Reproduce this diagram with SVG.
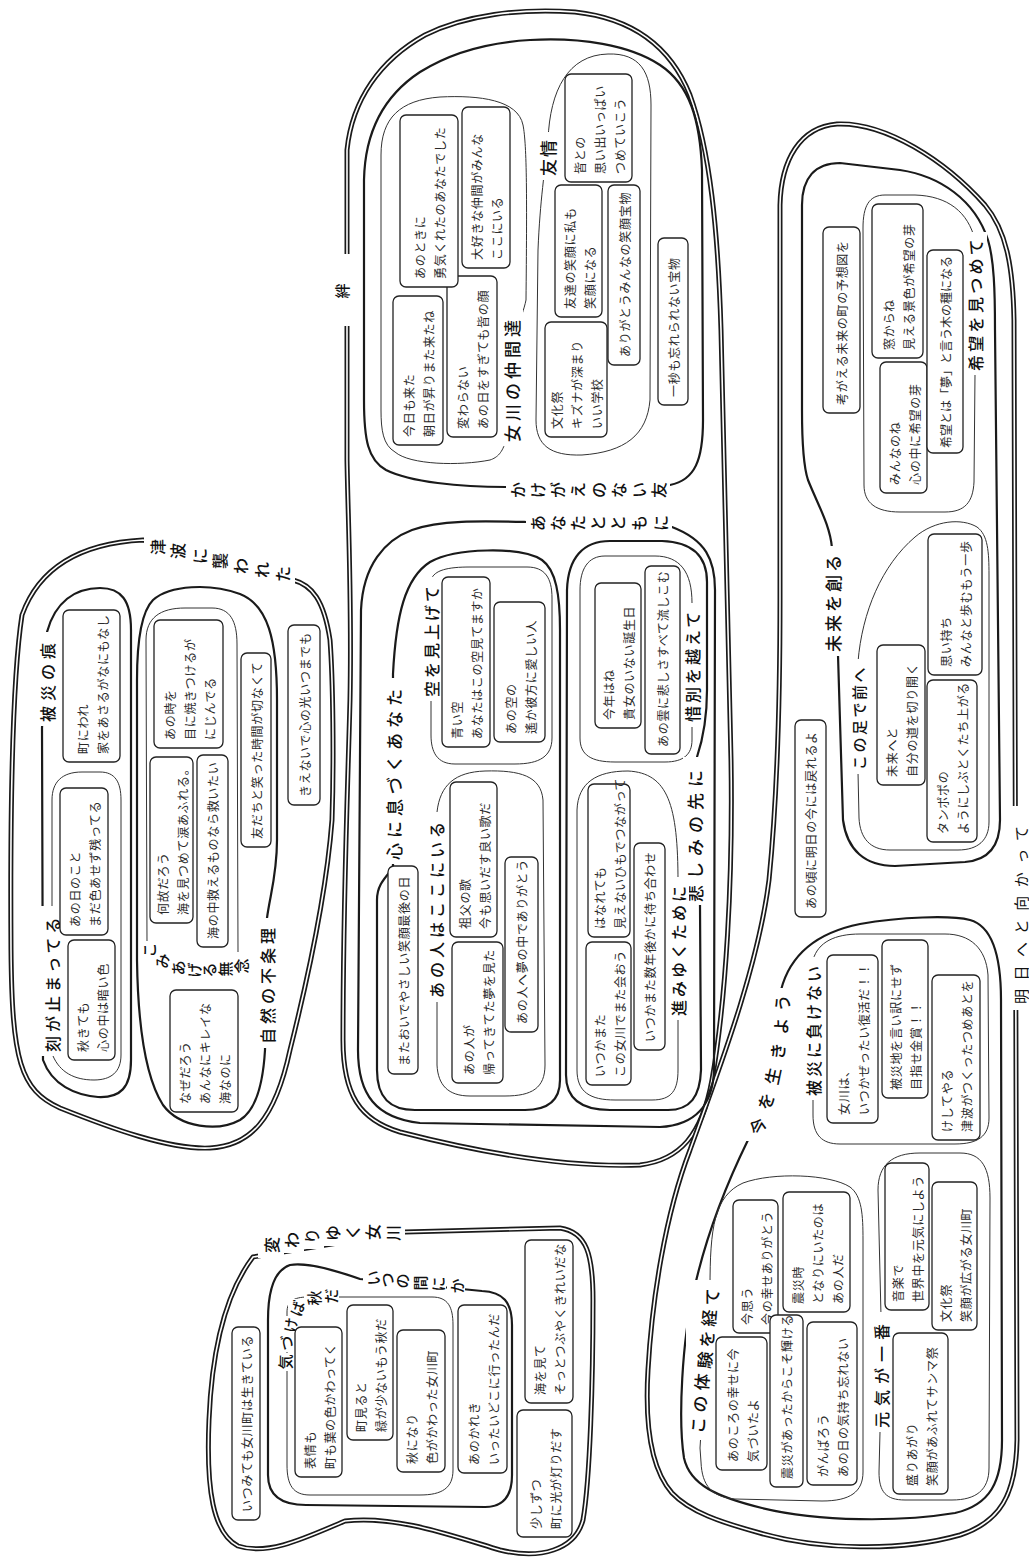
<svg xmlns="http://www.w3.org/2000/svg" width="1029" height="1563" viewBox="0 0 1029 1563">
<style>
.dbl{fill:none;stroke:#1a1a1a;stroke-width:5;stroke-linejoin:round}
.dbw{fill:none;stroke:#fff;stroke-width:1.6}
.thk{fill:none;stroke:#1a1a1a;stroke-width:2.2}
.thn{fill:none;stroke:#333;stroke-width:1}
.box{fill:#fff;stroke:#222;stroke-width:1.3}
.bg{fill:#fff}
.t{font-family:"Noto Sans CJK JP","Noto Sans CJK SC",sans-serif;font-size:12px;letter-spacing:0.7px;fill:#2a2a2a;dominant-baseline:central}
.h{font-family:"Noto Sans CJK JP","Noto Sans CJK SC",sans-serif;font-size:16px;font-weight:500;fill:#111;dominant-baseline:central}
.c{text-anchor:middle}
</style>
<rect width="1029" height="1563" fill="#fff"/>
<defs>
<path id="pA" d="M347,255 L347,150 C352,100 380,60 425,35 C465,15 520,8 575,12 C630,18 670,45 690,95 C710,150 718,230 721,330 C724,450 728,600 731,760 C733,880 726,1000 712,1080 C702,1135 680,1160 640,1165 C560,1168 470,1150 400,1132 C360,1120 343,1095 343,1040 C343,900 348,780 350,700 C352,600 348,520 347,460 Z"/>
<path id="pC" d="M143,540 C85,543 40,565 22,615 C12,680 10,800 11,950 C12,1060 20,1090 60,1108 C110,1128 170,1150 210,1148 C250,1146 275,1120 290,1050 C305,990 326,900 332,820 C334,760 333,680 330,640 C324,600 312,585 293,580 Z"/>
<path id="pD" d="M253,1257 C228,1290 212,1345 209,1420 C206,1490 213,1533 238,1546 C268,1556 305,1538 345,1521 C395,1515 450,1535 500,1550 C540,1560 575,1550 583,1520 C590,1480 593,1380 593,1300 C593,1255 587,1232 560,1228 L405,1232 Z"/>
<path id="pB" d="M780,600 L780,205 C781,160 800,127 837,124 C885,122 945,160 985,205 C1006,230 1013,265 1014,320 L1017,1440 C1016,1495 1000,1522 960,1535 C900,1552 820,1550 760,1533 C720,1522 690,1512 672,1493 C650,1468 645,1420 648,1370 C652,1300 665,1215 690,1150 C715,1080 758,970 769,880 C777,800 780,700 780,600 Z"/>
</defs>

<g id="outlines">
<use href="#pA" class="dbl"/><use href="#pA" class="dbw"/>
<use href="#pC" class="dbl"/><use href="#pC" class="dbw"/>
<use href="#pD" class="dbl"/><use href="#pD" class="dbw"/>
<use href="#pB" class="dbl"/><use href="#pB" class="dbw"/>
</g>

<g id="group-lines">
<path id="g-kakegae" class="thk" d="M506,487 C460,487 410,482 386,470 C368,460 364,440 364,400 L364,180 C365,130 385,95 420,72 C455,50 495,42 530,40 C580,37 630,45 660,65 C690,85 700,120 702,170 L703,420 C703,460 695,480 670,485 Z"/>
<path id="g-nakama" class="thn" d="M381,410 L381,155 C381,118 400,100 440,97 C480,95 518,100 523,125 C527,145 527,200 526,300 C522,320 512,330 511,380 C510,440 505,455 490,460 C460,466 410,465 395,452 C383,445 381,430 381,410 Z"/>
<path id="g-yujo" class="thn" d="M548,140 C550,90 568,55 608,54 C640,53 651,72 651,105 L650,400 C647,435 625,452 582,455 C550,456 536,445 536,420 L538,250 C540,200 545,170 548,140 Z"/>
<path id="g-anata" class="thk" d="M526,522 C480,521 440,520 412,530 C385,540 363,565 361,610 L358,1050 C358,1095 376,1118 420,1123 L660,1127 C695,1125 713,1105 714,1070 L715,590 C715,560 706,540 672,527 Z"/>
<path id="g-kokoro" class="thk" d="M393,674 C396,615 405,578 430,562 C455,548 520,546 542,560 C556,570 560,595 560,630 L560,1080 C560,1100 548,1110 525,1110 L415,1110 C390,1110 377,1098 377,1070 L377,900 C377,885 385,878 393,868 Z"/>
<path id="g-anohito" class="thn" d="M437,812 C440,785 455,772 485,771 C520,770 541,776 543,800 L545,1065 C545,1088 532,1096 505,1096 L470,1096 C448,1096 438,1085 437,1065 L437,1000 Z"/>
<path id="g-sora" class="thn" d="M431,580 C434,570 448,567 470,567 L527,567 C545,567 552,578 552,598 L552,738 C552,756 540,764 515,764 L455,764 C437,764 431,752 431,735 L431,700 Z"/>
<path id="g-kanashimi" class="thk" d="M697,757 C702,742 707,722 707,690 L707,582 C707,556 692,542 662,541 L610,541 C583,541 568,558 567,590 L566,1075 C566,1098 580,1110 610,1110 L668,1110 C690,1110 700,1097 701,1070 L700,905 Z"/>
<path id="g-sekibetsu" class="thn" d="M692,603 C692,572 680,556 655,556 L605,556 C588,556 580,569 580,590 L580,738 C580,755 591,762 615,762 L665,762 C684,762 692,754 692,740 L692,725 Z"/>
<path id="g-susumi" class="thn" d="M678,882 C678,805 668,773 628,771 C596,771 578,783 577,810 L577,1070 C577,1092 590,1100 615,1100 L652,1100 C672,1100 678,1090 678,1070 L678,1018 Z"/>
<path id="g-hisainoato" class="thk" d="M47,632 C55,602 75,588 100,588 C121,588 131,600 131,630 L131,1060 C131,1088 120,1098 98,1097 C75,1095 52,1085 43,1060 L42,728 Z"/>
<path id="g-toki" class="thn" d="M52,906 L52,800 C52,782 62,772 82,772 L100,772 C115,772 121,782 121,800 L121,1055 C121,1072 111,1080 94,1080 C74,1080 60,1072 53,1056 Z"/>
<path id="g-shizen" class="thk" d="M267,918 C270,895 277,875 277,840 L277,700 C277,640 268,605 240,594 C210,583 170,585 153,600 C141,612 137,640 137,680 L137,960 C138,1030 147,1080 163,1105 C180,1128 218,1132 240,1120 C256,1110 263,1085 265,1050 Z"/>
<path id="g-komiageru" class="thn" d="M147,945 L146,640 C146,618 160,608 185,608 L212,608 C230,608 237,621 237,644 L238,952"/>
<path id="g-itsunoma" class="thk" d="M360,1279 C340,1272 310,1262 290,1265 C275,1270 268,1290 268,1320 L268,1475 C268,1496 282,1505 306,1505 L485,1507 C503,1507 512,1497 512,1475 L512,1325 C512,1302 503,1292 482,1291 Z"/>
<path id="g-kizukeba" class="thn" d="M287,1380 L287,1312 C287,1302 293,1297 308,1297 L432,1297 C448,1297 453,1307 453,1325 L453,1470 C453,1488 442,1495 420,1495 L310,1495 C293,1495 287,1485 287,1465 Z"/>
<path id="g-mirai" class="thk" d="M832,548 C830,525 818,505 808,480 C803,465 802,440 802,410 L802,205 C802,178 815,163 840,163 L900,170 C940,176 975,200 988,240 C994,260 995,290 995,330 L1000,820 C1000,845 990,860 965,862 L895,866 C865,866 847,850 843,820 L838,655 Z"/>
<path id="g-kibo" class="thn" d="M975,240 C968,212 948,196 915,195 L885,195 C869,195 863,206 863,228 L864,485 C864,503 876,512 900,512 L945,512 C965,512 973,502 974,482 L975,374 Z"/>
<path id="g-konoashi" class="thn" d="M858,662 C862,612 882,565 915,537 C935,520 962,518 977,527 C988,535 989,552 989,575 L989,822 C989,840 978,850 958,850 L890,850 C870,850 860,838 859,818 L858,772 Z"/>
<path id="g-ima" class="thk" d="M781,990 C790,955 815,933 860,924 C900,917 950,915 970,920 C992,926 1001,955 1001,1000 L1002,1440 C1002,1482 990,1505 955,1513 C900,1522 820,1522 762,1508 C717,1497 690,1485 684,1458 C678,1420 682,1340 694,1290 C705,1240 726,1185 748,1140 Z"/>
<path id="g-makenai" class="thn" d="M813,960 C818,942 835,934 860,934 L945,934 C970,934 986,948 988,975 L989,1118 C989,1136 978,1144 955,1144 L840,1144 C822,1144 813,1135 813,1115 L813,1098 Z"/>
<path id="g-taiken" class="thn" d="M710,1288 C710,1228 714,1196 743,1183 C773,1172 830,1174 850,1187 C862,1196 863,1215 863,1240 L863,1472 C863,1492 850,1501 822,1501 L735,1499 C712,1497 702,1486 701,1462 L700,1448 Z"/>
<path id="g-genki" class="thn" d="M881,1316 L878,1190 C878,1165 892,1153 920,1153 L960,1153 C982,1153 990,1168 990,1198 L989,1468 C989,1490 976,1500 952,1500 L905,1500 C886,1500 879,1492 879,1472 L880,1432 Z"/>
</g>

<g id="labels">
<g id="l-kizuna"><rect class="bg" x="328" y="254" width="30" height="72"/><text class="h c" style="font-size:15px" transform="translate(341,291) rotate(-90)">絆</text></g>
<g id="l-kakegae"><rect class="bg" x="506" y="478" width="164" height="24"/>
<text class="h c" transform="translate(517,490) rotate(-90)">か</text><text class="h c" transform="translate(537,490) rotate(-90)">け</text><text class="h c" transform="translate(557,490) rotate(-90)">が</text><text class="h c" transform="translate(577,490) rotate(-90)">え</text><text class="h c" transform="translate(598,490) rotate(-90)">の</text><text class="h c" transform="translate(618,490) rotate(-90)">な</text><text class="h c" transform="translate(638,490) rotate(-90)">い</text><text class="h c" transform="translate(658,490) rotate(-90)">友</text></g>
<g id="l-nakama"><rect class="bg" x="500" y="310" width="23" height="136"/><text class="h" style="font-size:17px;letter-spacing:4px" transform="translate(511,442) rotate(-90)">女川の仲間達</text></g>
<g id="l-yujo"><rect class="bg" x="536" y="132" width="23" height="48"/><text class="h" style="font-size:17px;letter-spacing:2px" transform="translate(547,176) rotate(-90)">友情</text></g>
<g id="l-anata"><rect class="bg" x="526" y="511" width="146" height="24"/>
<text class="h c" transform="translate(537,523) rotate(-90)">あ</text><text class="h c" transform="translate(557,523) rotate(-90)">な</text><text class="h c" transform="translate(577,523) rotate(-90)">た</text><text class="h c" transform="translate(597,523) rotate(-90)">と</text><text class="h c" transform="translate(617,523) rotate(-90)">と</text><text class="h c" transform="translate(638,523) rotate(-90)">も</text><text class="h c" transform="translate(660,523) rotate(-90)">に</text></g>
<g id="l-kokoro"><rect class="bg" x="382" y="678" width="23" height="186"/><text class="h" style="font-size:17px;letter-spacing:5px" transform="translate(393,860) rotate(-90)">心に息づくあなた</text></g>
<g id="l-anohito"><rect class="bg" x="425" y="812" width="23" height="190"/><text class="h" style="letter-spacing:4px" transform="translate(436,998) rotate(-90)">あの人はここにいる</text></g>
<g id="l-sora"><rect class="bg" x="420" y="577" width="23" height="124"/><text class="h" style="letter-spacing:3px" transform="translate(431,697) rotate(-90)">空を見上げて</text></g>
<g id="l-kanashimi"><rect class="bg" x="683" y="757" width="28" height="148"/><text class="h" style="font-size:17px;letter-spacing:6px" transform="translate(694,902) rotate(-90)">悲しみの先に</text></g>
<g id="l-sekibetsu"><rect class="bg" x="682" y="603" width="20" height="124"/><text class="h" style="letter-spacing:3px" transform="translate(692,722) rotate(-90)">惜別を越えて</text></g>
<g id="l-susumi"><rect class="bg" x="668" y="877" width="21" height="143"/><text class="h" style="letter-spacing:3px" transform="translate(678,1016) rotate(-90)">進みゆくために</text></g>

<g id="l-tsunami">
<rect class="bg" x="144" y="534" width="26" height="26"/><rect class="bg" x="164" y="538" width="26" height="26"/><rect class="bg" x="186" y="543" width="26" height="26"/><rect class="bg" x="206" y="548" width="26" height="26"/><rect class="bg" x="227" y="553" width="26" height="26"/><rect class="bg" x="248" y="557" width="26" height="26"/><rect class="bg" x="269" y="561" width="26" height="26"/>
<text class="h c" transform="translate(157,547) rotate(-90)">津</text><text class="h c" transform="translate(177,551) rotate(-90)">波</text><text class="h c" transform="translate(199,556) rotate(-90)">に</text><text class="h c" transform="translate(219,561) rotate(-90)">襲</text><text class="h c" transform="translate(240,566) rotate(-90)">わ</text><text class="h c" transform="translate(261,570) rotate(-90)">れ</text><text class="h c" transform="translate(282,574) rotate(-90)">た</text></g>
<g id="l-hisainoato"><rect class="bg" x="36" y="632" width="23" height="94"/><text class="h" style="letter-spacing:5px" transform="translate(47,722) rotate(-90)">被災の痕</text></g>
<g id="l-toki"><rect class="bg" x="41" y="906" width="23" height="150"/><text class="h" style="letter-spacing:4px" transform="translate(52,1052) rotate(-90)">刻が止まってる</text></g>
<g id="l-shizen"><rect class="bg" x="256" y="918" width="23" height="130"/><text class="h" style="letter-spacing:4px" transform="translate(267,1044) rotate(-90)">自然の不条理</text></g>
<g id="l-komiageru">
<rect class="bg" x="140" y="941" width="16" height="18"/><rect class="bg" x="152" y="952" width="18" height="18"/><rect class="bg" x="168" y="959" width="18" height="18"/><rect class="bg" x="184" y="961" width="18" height="18"/><rect class="bg" x="199" y="961" width="18" height="18"/><rect class="bg" x="215" y="960" width="18" height="18"/><rect class="bg" x="231" y="957" width="18" height="18"/>
<text class="h c" style="font-size:15px" transform="translate(148,950) rotate(-90)">こ</text><text class="h c" style="font-size:15px" transform="translate(161,961) rotate(-90)">み</text><text class="h c" style="font-size:15px" transform="translate(177,968) rotate(-90)">あ</text><text class="h c" style="font-size:15px" transform="translate(193,970) rotate(-90)">げ</text><text class="h c" style="font-size:15px" transform="translate(208,970) rotate(-90)">る</text><text class="h c" style="font-size:15px" transform="translate(224,969) rotate(-90)">無</text><text class="h c" style="font-size:15px" transform="translate(240,966) rotate(-90)">念</text></g>

<g id="l-kawariyuku">
<rect class="bg" x="258" y="1232" width="26" height="26"/><rect class="bg" x="278" y="1227" width="26" height="26"/><rect class="bg" x="298" y="1223" width="26" height="26"/><rect class="bg" x="319" y="1220" width="26" height="26"/><rect class="bg" x="339" y="1219" width="26" height="26"/><rect class="bg" x="359" y="1219" width="26" height="26"/><rect class="bg" x="379" y="1220" width="26" height="26"/>
<text class="h c" transform="translate(271,1245) rotate(-90)">変</text><text class="h c" transform="translate(291,1240) rotate(-90)">わ</text><text class="h c" transform="translate(311,1236) rotate(-90)">り</text><text class="h c" transform="translate(332,1233) rotate(-90)">ゆ</text><text class="h c" transform="translate(352,1232) rotate(-90)">く</text><text class="h c" transform="translate(372,1232) rotate(-90)">女</text><text class="h c" transform="translate(392,1233) rotate(-90)">川</text></g>
<g id="l-itsunoma">
<rect class="bg" x="363" y="1269" width="18" height="18"/><rect class="bg" x="377" y="1271" width="18" height="18"/><rect class="bg" x="392" y="1272" width="18" height="18"/><rect class="bg" x="410" y="1274" width="18" height="18"/><rect class="bg" x="428" y="1275" width="18" height="18"/><rect class="bg" x="447" y="1277" width="18" height="18"/>
<text class="h c" style="font-size:15px" transform="translate(372,1278) rotate(-90)">い</text><text class="h c" style="font-size:15px" transform="translate(386,1280) rotate(-90)">つ</text><text class="h c" style="font-size:15px" transform="translate(401,1281) rotate(-90)">の</text><text class="h c" style="font-size:15px" transform="translate(419,1283) rotate(-90)">間</text><text class="h c" style="font-size:15px" transform="translate(437,1284) rotate(-90)">に</text><text class="h c" style="font-size:15px" transform="translate(456,1286) rotate(-90)">か</text></g>
<g id="l-kizukeba">
<rect class="bg" x="275" y="1353" width="18" height="18"/><rect class="bg" x="277" y="1334" width="18" height="18"/><rect class="bg" x="281" y="1316" width="18" height="18"/><rect class="bg" x="288" y="1299" width="18" height="18"/><rect class="bg" x="304" y="1289" width="18" height="18"/><rect class="bg" x="321" y="1287" width="18" height="18"/>
<text class="h c" style="font-size:15px" transform="translate(284,1362) rotate(-90)">気</text><text class="h c" style="font-size:15px" transform="translate(286,1343) rotate(-88)">づ</text><text class="h c" style="font-size:15px" transform="translate(290,1325) rotate(-82)">け</text><text class="h c" style="font-size:15px" transform="translate(297,1308) rotate(-72)">ば</text><text class="h c" style="font-size:15px" transform="translate(313,1298) rotate(-90)">秋</text><text class="h c" style="font-size:15px" transform="translate(330,1296) rotate(-90)">だ</text></g>

<g id="l-ashita"><rect class="bg" x="1006" y="806" width="26" height="204"/><text class="h" style="font-size:15px;font-weight:400;letter-spacing:8.5px" transform="translate(1020,1004) rotate(-90)">明日へと向かって</text></g>
<g id="l-mirai"><rect class="bg" x="821" y="546" width="23" height="110"/><text class="h" style="font-size:17px;letter-spacing:3px" transform="translate(832,652) rotate(-90)">未来を創る</text></g>
<g id="l-kibo"><rect class="bg" x="964" y="232" width="23" height="143"/><text class="h" style="letter-spacing:3.3px" transform="translate(975,371) rotate(-90)">希望を見つめて</text></g>
<g id="l-konoashi"><rect class="bg" x="847" y="659" width="23" height="115"/><text class="h" style="font-size:15px;letter-spacing:2.5px" transform="translate(858,770) rotate(-90)">この足で前へ</text></g>
<g id="l-ima">
<rect class="bg" x="743" y="1111" width="28" height="30"/><rect class="bg" x="751" y="1086" width="28" height="30"/><rect class="bg" x="758" y="1061" width="28" height="30"/><rect class="bg" x="763" y="1036" width="28" height="30"/><rect class="bg" x="766" y="1011" width="28" height="30"/><rect class="bg" x="767" y="988" width="28" height="28"/>
<text class="h c" style="font-size:17px" transform="translate(757,1126) rotate(-62)">今</text><text class="h c" style="font-size:17px" transform="translate(765,1101) rotate(-70)">を</text><text class="h c" style="font-size:17px" transform="translate(772,1076) rotate(-78)">生</text><text class="h c" style="font-size:17px" transform="translate(777,1051) rotate(-84)">き</text><text class="h c" style="font-size:17px" transform="translate(780,1026) rotate(-88)">よ</text><text class="h c" style="font-size:17px" transform="translate(781,1003) rotate(-90)">う</text></g>
<g id="l-makenai"><rect class="bg" x="802" y="957" width="23" height="143"/><text class="h" style="letter-spacing:3px" transform="translate(813,1096) rotate(-90)">被災に負けない</text></g>
<g id="l-taiken">
<rect class="bg" x="686" y="1280" width="27" height="160"/>
<text class="h c" style="font-size:17px" transform="translate(697,1425) rotate(-85)">こ</text><text class="h c" style="font-size:17px" transform="translate(699,1404) rotate(-85)">の</text><text class="h c" style="font-size:17px" transform="translate(701,1382) rotate(-85)">体</text><text class="h c" style="font-size:17px" transform="translate(704,1360) rotate(-85)">験</text><text class="h c" style="font-size:17px" transform="translate(706,1339) rotate(-85)">を</text><text class="h c" style="font-size:17px" transform="translate(708,1318) rotate(-85)">経</text><text class="h c" style="font-size:17px" transform="translate(711,1297) rotate(-85)">て</text></g>
<g id="l-genki"><rect class="bg" x="870" y="1312" width="23" height="120"/><text class="h" style="letter-spacing:6px" transform="translate(881,1428) rotate(-90)">元気が一番</text></g>
</g>

<g id="nodes">
<g id="b1"><rect class="box" x="393" y="296" width="50" height="149" rx="6"/><text class="t" transform="translate(408,437) rotate(-90)"><tspan x="0" y="0">今日も来た</tspan><tspan x="0" y="20">朝日が昇りまた来たね</tspan></text></g>
<g id="b2"><rect class="box" x="447" y="276" width="50" height="161" rx="6"/><text class="t" transform="translate(462,429) rotate(-90)"><tspan x="0" y="0">変わらない</tspan><tspan x="0" y="20">あの日をすぎても皆の顔</tspan></text></g>
<g id="b3"><rect class="box" x="400" y="115" width="58" height="172" rx="6"/><text class="t" transform="translate(419,279) rotate(-90)"><tspan x="0" y="0">あのときに</tspan><tspan x="0" y="20">勇気くれたのあなたでした</tspan></text></g>
<g id="b4"><rect class="box" x="462" y="107" width="48" height="161" rx="6"/><text class="t" transform="translate(476,260) rotate(-90)"><tspan x="0" y="0">大好きな仲間がみんな</tspan><tspan x="0" y="20">ここにいる</tspan></text></g>
<g id="b5"><rect class="box" x="565" y="74" width="67" height="108" rx="6"/><text class="t" transform="translate(578.5,174) rotate(-90)"><tspan x="0" y="0">皆との</tspan><tspan x="0" y="20">思い出いっぱい</tspan><tspan x="0" y="40">つめていこう</tspan></text></g>
<g id="b6"><rect class="box" x="555" y="185" width="47" height="132" rx="6"/><text class="t" transform="translate(568.5,309) rotate(-90)"><tspan x="0" y="0">友達の笑顔に私も</tspan><tspan x="0" y="20">笑顔になる</tspan></text></g>
<g id="b7"><rect class="box" x="608" y="185" width="32" height="180" rx="6"/><text class="t" transform="translate(624,357) rotate(-90)">ありがとうみんなの笑顔宝物</text></g>
<g id="b8"><rect class="box" x="545" y="322" width="62" height="115" rx="6"/><text class="t" transform="translate(556,429) rotate(-90)"><tspan x="0" y="0">文化祭</tspan><tspan x="0" y="20">キズナが深まり</tspan><tspan x="0" y="40">いい学校</tspan></text></g>
<g id="b9"><rect class="box" x="658" y="238" width="30" height="167" rx="6"/><text class="t" transform="translate(673,397) rotate(-90)">一秒も忘れられない宝物</text></g>
<g id="b10"><rect class="box" x="388" y="866" width="30" height="208" rx="6"/><text class="t" transform="translate(403,1066) rotate(-90)">またおいでやさしい笑顔最後の日</text></g>
<g id="b11"><rect class="box" x="450" y="782" width="47" height="155" rx="6"/><text class="t" transform="translate(463.5,929) rotate(-90)"><tspan x="0" y="0">祖父の歌</tspan><tspan x="0" y="20">今も思いだす良い歌だ</tspan></text></g>
<g id="b12"><rect class="box" x="452" y="942" width="51" height="141" rx="6"/><text class="t" transform="translate(467.5,1075) rotate(-90)"><tspan x="0" y="0">あの人が</tspan><tspan x="0" y="20">帰ってきてた夢を見た</tspan></text></g>
<g id="b13"><rect class="box" x="505" y="857" width="33" height="175" rx="6"/><text class="t" transform="translate(521.5,1024) rotate(-90)">あの人へ夢の中でありがとう</text></g>
<g id="b14"><rect class="box" x="442" y="577" width="48" height="170" rx="6"/><text class="t" transform="translate(456,739) rotate(-90)"><tspan x="0" y="0">青い空</tspan><tspan x="0" y="20">あなたはこの空見てますか</tspan></text></g>
<g id="b15"><rect class="box" x="494" y="602" width="51" height="140" rx="6"/><text class="t" transform="translate(509.5,734) rotate(-90)"><tspan x="0" y="0">あの空の</tspan><tspan x="0" y="20">遙か彼方に愛しい人</tspan></text></g>
<g id="b16"><rect class="box" x="595" y="583" width="46" height="145" rx="6"/><text class="t" transform="translate(608,720) rotate(-90)"><tspan x="0" y="0">今年はね</tspan><tspan x="0" y="20">貴女のいない誕生日</tspan></text></g>
<g id="b17"><rect class="box" x="645" y="566" width="35" height="188" rx="6"/><text class="t" transform="translate(662.5,747) rotate(-90)">あの雲に悲しさすべて流しこむ</text></g>
<g id="b18"><rect class="box" x="588" y="784" width="42" height="153" rx="6"/><text class="t" transform="translate(599,929) rotate(-90)"><tspan x="0" y="0">はなれても</tspan><tspan x="0" y="20">見えないひもでつながって</tspan></text></g>
<g id="b19"><rect class="box" x="586" y="942" width="45" height="143" rx="6"/><text class="t" transform="translate(598.5,1077) rotate(-90)"><tspan x="0" y="0">いつかまた</tspan><tspan x="0" y="20">この女川でまた会おう</tspan></text></g>
<g id="b20"><rect class="box" x="634" y="843" width="31" height="207" rx="6"/><text class="t" transform="translate(649.5,1042) rotate(-90)">いつかまた数年後かに待ち合わせ</text></g>

<g id="c1"><rect class="box" x="63" y="610" width="57" height="152" rx="6"/><text class="t" transform="translate(81.5,754) rotate(-90)"><tspan x="0" y="0">町にわれ</tspan><tspan x="0" y="20">家をあさるがなにもなし</tspan></text></g>
<g id="c2"><rect class="box" x="60" y="788" width="48" height="147" rx="6"/><text class="t" transform="translate(74,927) rotate(-90)"><tspan x="0" y="0">あの日のこと</tspan><tspan x="0" y="20">まだ色あせず残ってる</tspan></text></g>
<g id="c3"><rect class="box" x="68" y="940" width="47" height="120" rx="6"/><text class="t" transform="translate(81.5,1052) rotate(-90)"><tspan x="0" y="0">秋きても</tspan><tspan x="0" y="20">心の中は暗い色</tspan></text></g>
<g id="c4"><rect class="box" x="154" y="620" width="69" height="128" rx="6"/><text class="t" transform="translate(168.5,740) rotate(-90)"><tspan x="0" y="0">あの時を</tspan><tspan x="0" y="20">目に焼きつけるが</tspan><tspan x="0" y="40">にじんでる</tspan></text></g>
<g id="c5"><rect class="box" x="150" y="757" width="43" height="166" rx="6"/><text class="t" transform="translate(161.5,915) rotate(-90)"><tspan x="0" y="0">何故だろう</tspan><tspan x="0" y="20">海を見つめて涙あふれる。</tspan></text></g>
<g id="c6"><rect class="box" x="197" y="755" width="31" height="192" rx="6"/><text class="t" transform="translate(212.5,939) rotate(-90)">海の中救えるものなら救いたい</text></g>
<g id="c7"><rect class="box" x="170" y="990" width="68" height="122" rx="6"/><text class="t" transform="translate(184,1104) rotate(-90)"><tspan x="0" y="0">なぜだろう</tspan><tspan x="0" y="20">あんなにキレイな</tspan><tspan x="0" y="40">海なのに</tspan></text></g>
<g id="c8"><rect class="box" x="241" y="653" width="30" height="194" rx="6"/><text class="t" transform="translate(256,839) rotate(-90)">友だちと笑った時間が切なくて</text></g>
<g id="c9"><rect class="box" x="288" y="625" width="32" height="180" rx="6"/><text class="t" transform="translate(304,797) rotate(-90)">きえないで心の光いつまでも</text></g>

<g id="d1"><rect class="box" x="232" y="1327" width="28" height="193" rx="6"/><text class="t" transform="translate(246,1512) rotate(-90)">いつみても女川町は生きている</text></g>
<g id="d2"><rect class="box" x="295" y="1327" width="47" height="150" rx="6"/><text class="t" transform="translate(308.5,1469) rotate(-90)"><tspan x="0" y="0">表情も</tspan><tspan x="0" y="20">町も葉の色かわってく</tspan></text></g>
<g id="d3"><rect class="box" x="347" y="1305" width="46" height="135" rx="6"/><text class="t" transform="translate(360,1432) rotate(-90)"><tspan x="0" y="0">町見ると</tspan><tspan x="0" y="20">緑が少ないもう秋だ</tspan></text></g>
<g id="d4"><rect class="box" x="397" y="1330" width="48" height="142" rx="6"/><text class="t" transform="translate(411,1464) rotate(-90)"><tspan x="0" y="0">秋になり</tspan><tspan x="0" y="20">色がかわった女川町</tspan></text></g>
<g id="d5"><rect class="box" x="458" y="1305" width="49" height="168" rx="6"/><text class="t" transform="translate(472.5,1465) rotate(-90)"><tspan x="0" y="0">あのかれき</tspan><tspan x="0" y="20">いったいどこに行ったんだ</tspan></text></g>
<g id="d6"><rect class="box" x="525" y="1240" width="48" height="163" rx="6"/><text class="t" transform="translate(539,1395) rotate(-90)"><tspan x="0" y="0">海を見て</tspan><tspan x="0" y="20">そっとつぶやくきれいだな</tspan></text></g>
<g id="d7"><rect class="box" x="517" y="1410" width="55" height="127" rx="6"/><text class="t" transform="translate(534.5,1529) rotate(-90)"><tspan x="0" y="0">少しずつ</tspan><tspan x="0" y="20">町に光が灯りだす</tspan></text></g>

<g id="e1"><rect class="box" x="795" y="720" width="31" height="197" rx="6"/><text class="t" transform="translate(810.5,909) rotate(-90)">あの頃に明日の今には戻れるよ</text></g>
<g id="e2"><rect class="box" x="823" y="227" width="37" height="186" rx="6"/><text class="t" transform="translate(841.5,405) rotate(-90)">考がえる未来の町の予想図を</text></g>
<g id="e3"><rect class="box" x="872" y="204" width="51" height="154" rx="6"/><text class="t" transform="translate(887.5,350) rotate(-90)"><tspan x="0" y="0">窓からね</tspan><tspan x="0" y="20">見える景色が希望の芽</tspan></text></g>
<g id="e4"><rect class="box" x="880" y="362" width="47" height="131" rx="6"/><text class="t" transform="translate(893.5,485) rotate(-90)"><tspan x="0" y="0">みんなのね</tspan><tspan x="0" y="20">心の中に希望の芽</tspan></text></g>
<g id="e5"><rect class="box" x="927" y="250" width="36" height="203" rx="6"/><text class="t" style="letter-spacing:0" transform="translate(945,448) rotate(-90)">希望とは「夢」と言う木の種になる</text></g>
<g id="e6"><rect class="box" x="877" y="645" width="48" height="140" rx="6"/><text class="t" transform="translate(891,777) rotate(-90)"><tspan x="0" y="0">未来へと</tspan><tspan x="0" y="20">自分の道を切り開く</tspan></text></g>
<g id="e7"><rect class="box" x="928" y="534" width="54" height="141" rx="6"/><text class="t" transform="translate(945,667) rotate(-90)"><tspan x="0" y="0">思い持ち</tspan><tspan x="0" y="20">みんなと歩むもう一歩</tspan></text></g>
<g id="e8"><rect class="box" x="927" y="680" width="50" height="162" rx="6"/><text class="t" transform="translate(942,834) rotate(-90)"><tspan x="0" y="0">タンポポの</tspan><tspan x="0" y="20">ようにしぶとくたち上がる</tspan></text></g>
<g id="e9"><rect class="box" x="827" y="955" width="51" height="168" rx="6"/><text class="t" transform="translate(842.5,1115) rotate(-90)"><tspan x="0" y="0">女川は、</tspan><tspan x="0" y="20">いつかぜったい復活だ！！</tspan></text></g>
<g id="e10"><rect class="box" x="882" y="940" width="46" height="158" rx="6"/><text class="t" transform="translate(895,1090) rotate(-90)"><tspan x="0" y="0">被災地を言い訳にせず</tspan><tspan x="0" y="20">目指せ金賞！！</tspan></text></g>
<g id="e11"><rect class="box" x="932" y="975" width="48" height="165" rx="6"/><text class="t" transform="translate(946,1132) rotate(-90)"><tspan x="0" y="0">けしてやる</tspan><tspan x="0" y="20">津波がつくったつめあとを</tspan></text></g>
<g id="e12"><rect class="box" x="733" y="1200" width="45" height="133" rx="6"/><text class="t" transform="translate(745.5,1325) rotate(-90)"><tspan x="0" y="0">今思う</tspan><tspan x="0" y="20">今の幸せありがとう</tspan></text></g>
<g id="e13"><rect class="box" x="783" y="1192" width="67" height="120" rx="6"/><text class="t" transform="translate(796.5,1304) rotate(-90)"><tspan x="0" y="0">震災時</tspan><tspan x="0" y="20">となりにいたのは</tspan><tspan x="0" y="40">あの人だ</tspan></text></g>
<g id="e14"><rect class="box" x="716" y="1337" width="51" height="133" rx="6"/><text class="t" transform="translate(731.5,1462) rotate(-90)"><tspan x="0" y="0">あのころの幸せに今</tspan><tspan x="0" y="20">気づいたよ</tspan></text></g>
<g id="e15"><rect class="box" x="770" y="1315" width="33" height="172" rx="6"/><text class="t" transform="translate(786.5,1479) rotate(-90)">震災があったからこそ輝ける</text></g>
<g id="e16"><rect class="box" x="807" y="1322" width="50" height="163" rx="6"/><text class="t" transform="translate(822,1477) rotate(-90)"><tspan x="0" y="0">がんばろう</tspan><tspan x="0" y="20">あの日の気持ち忘れない</tspan></text></g>
<g id="e17"><rect class="box" x="885" y="1163" width="44" height="147" rx="6"/><text class="t" transform="translate(897,1302) rotate(-90)"><tspan x="0" y="0">音楽で</tspan><tspan x="0" y="20">世界中を元気にしよう</tspan></text></g>
<g id="e18"><rect class="box" x="932" y="1182" width="45" height="148" rx="6"/><text class="t" transform="translate(944.5,1322) rotate(-90)"><tspan x="0" y="0">文化祭</tspan><tspan x="0" y="20">笑顔が広がる女川町</tspan></text></g>
<g id="e19"><rect class="box" x="893" y="1333" width="55" height="161" rx="6"/><text class="t" transform="translate(910.5,1486) rotate(-90)"><tspan x="0" y="0">盛りあがり</tspan><tspan x="0" y="20">笑顔があふれてサンマ祭</tspan></text></g>
</g>
</svg>
